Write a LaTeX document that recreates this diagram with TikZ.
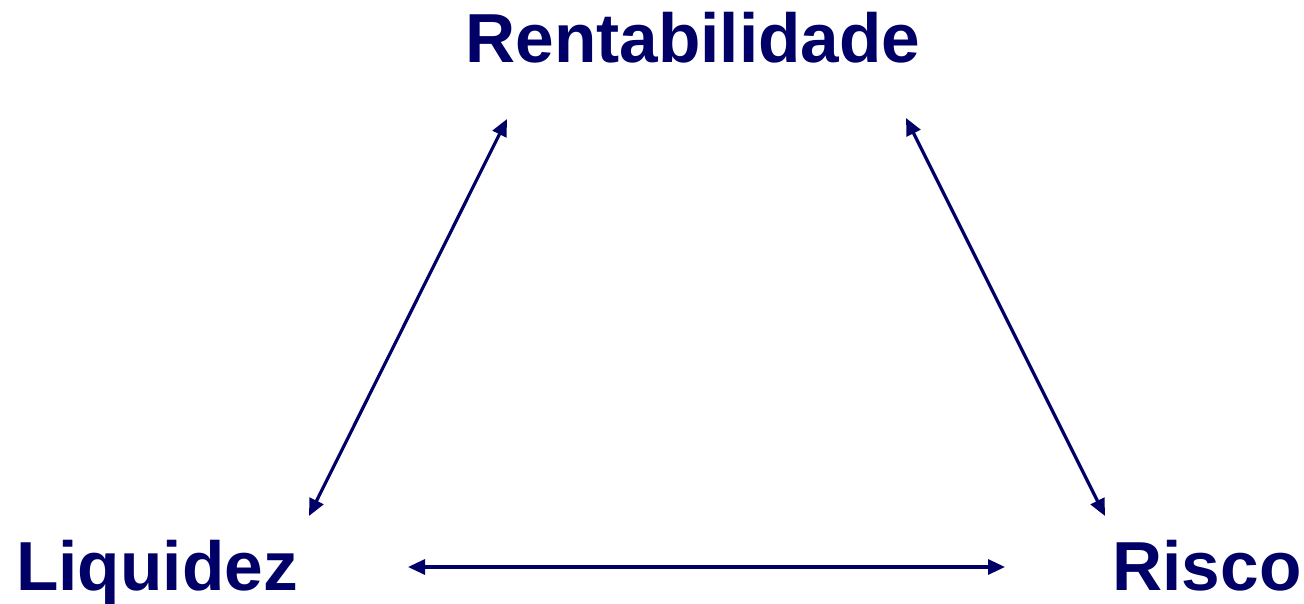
\documentclass[tikz,border=0pt]{standalone}
\usepackage{fontspec}
\setmainfont{Liberation Sans}
\usepackage{tikz}
\usetikzlibrary{arrows.meta}

\definecolor{navy}{RGB}{0,0,102}

\tikzset{
  label text/.style={anchor=base, inner sep=0pt, text=navy,
    font=\fontsize{39.5}{47}\selectfont\bfseries},
  link/.style={draw=navy, line width=1.8pt,
    {Triangle[length=0.34cm,width=0.3cm]}-{Triangle[length=0.34cm,width=0.3cm]}}
}

\begin{document}
\begin{tikzpicture}[x=0.02cm, y=-0.02cm]
  \useasboundingbox (0,0) rectangle (1304,604);
  \node[label text] (rent) at (693,63) {Rentabilidade};
  \node[label text] (liq) at (157,590) {Liquidez};
  \node[label text] (risco) at (1207,590) {Risco};
  \coordinate (liq-top) at (309,516);
  \coordinate (rent-left) at (507,119);
  \coordinate (rent-right) at (906,118);
  \coordinate (risco-top) at (1105,516);
  \coordinate (liq-right) at (408,567);
  \coordinate (risco-left) at (1005,567);
  \draw[link] (liq-top) -- (rent-left);
  \draw[link] (rent-right) -- (risco-top);
  \draw[link] (liq-right) -- (risco-left);
\end{tikzpicture}
\end{document}
